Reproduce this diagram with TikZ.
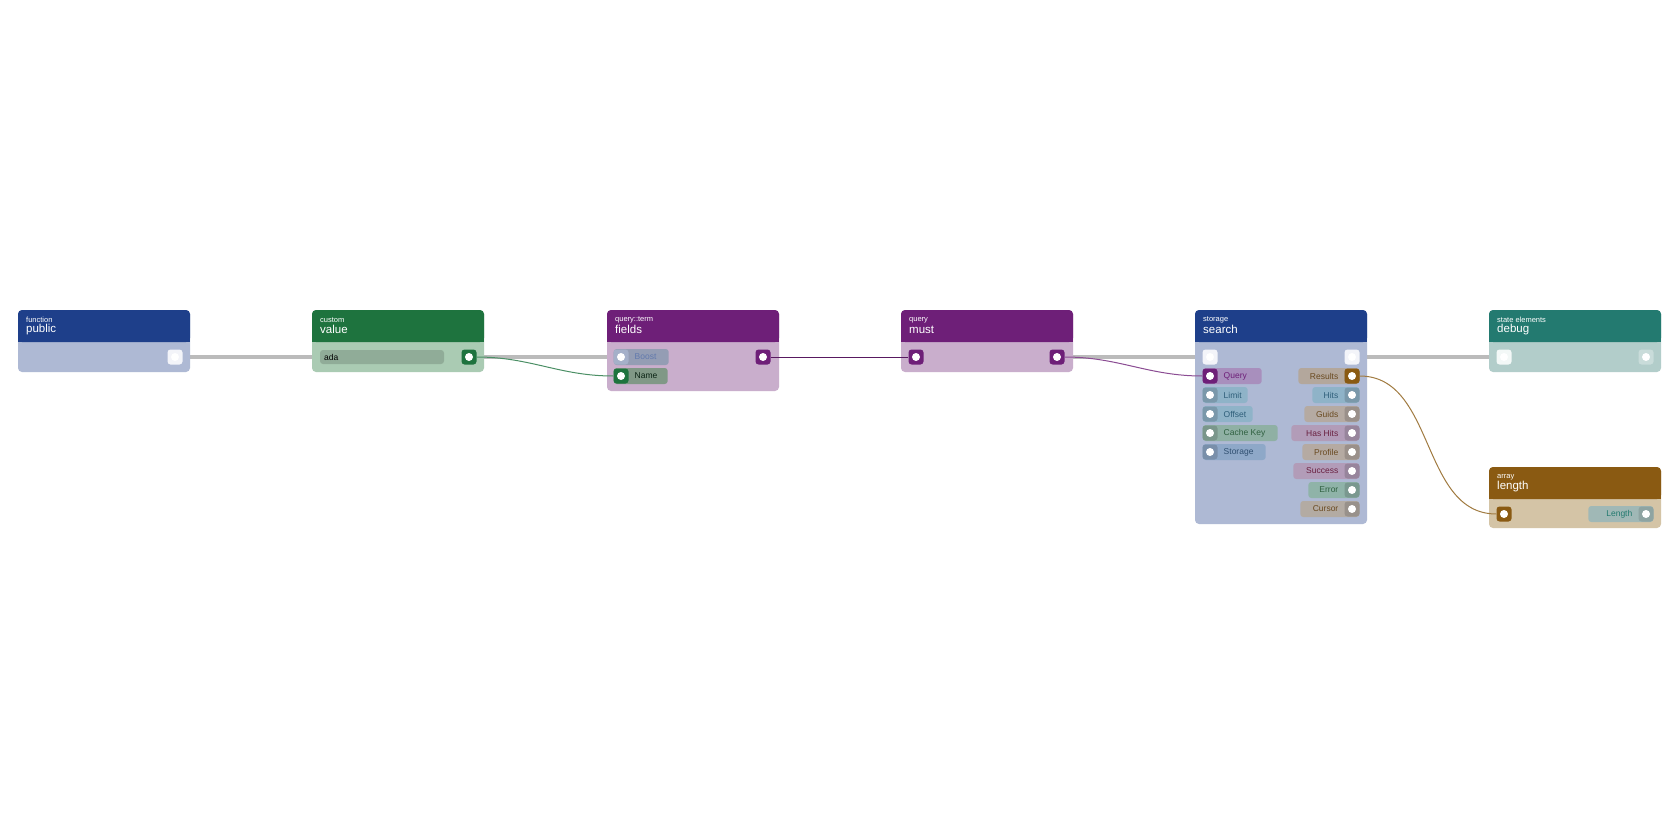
\documentclass[tikz,border=0pt]{standalone}
\usepackage{fontspec}
\setmainfont{Liberation Sans}
\definecolor{hblue}{HTML}{1E3F8A}
\definecolor{bblue}{HTML}{AEB9D4}
\definecolor{hgreen}{HTML}{1E733E}
\definecolor{bgreen}{HTML}{AACBB3}
\definecolor{hpurple}{HTML}{6E1F78}
\definecolor{bpurple}{HTML}{C9AECC}
\definecolor{hteal}{HTML}{237A70}
\definecolor{bteal}{HTML}{B2CDCA}
\definecolor{hbrown}{HTML}{8A5A12}
\definecolor{bbrown}{HTML}{D4C4A6}
\definecolor{wire}{HTML}{BBBBBB}
% card: name, x, top y, bottom y, header, body, category, title
\newcommand{\card}[8]{%
  \fill[#6,rounded corners=4pt] (#2,#3) rectangle (#2+172,#4);
  \fill[#5,rounded corners=4pt] (#2,#3) rectangle (#2+172,#3+32);
  \fill[#5] (#2,#3+20) rectangle (#2+172,#3+32);
  \node[cat] (#1-cat) at (#2+8,#3+10) {#7};
  \node[title] (#1) at (#2+8,#3+19.5) {#8};
}
% port: name, x, y, fill, dot
\newcommand{\port}[5]{%
  \node[port,fill=#4] (#1) at (#2,#3) {};
  \fill[#5] (#1) circle (4pt);
}
\newcommand{\inlab}[2]{\makebox[#1][l]{\hspace*{15pt}#2}}
\newcommand{\outlab}[2]{\makebox[#1][r]{#2\hspace*{15pt}}}
\begin{document}
\begin{tikzpicture}[x=1pt,y=-1pt,
  cat/.style={anchor=west,inner sep=0pt,text=white!80,font=\fontsize{7.5}{7.5}\selectfont},
  title/.style={anchor=west,inner sep=0pt,text=white,font=\fontsize{11.5}{11.5}\selectfont},
  port/.style={rounded corners=3pt,minimum size=15pt,inner sep=0pt},
  inpill/.style={anchor=west,rounded corners=3pt,minimum height=16pt,inner ysep=0pt,
    inner xsep=6pt,xshift=-7.5pt,font=\fontsize{8.5}{8.5}\selectfont},
  outpill/.style={anchor=east,rounded corners=3pt,minimum height=16pt,inner ysep=0pt,
    inner xsep=6pt,xshift=7.5pt,font=\fontsize{8.5}{8.5}\selectfont},
  link/.style={line width=1pt}]
\useasboundingbox (0,0) rectangle (1680,840);
\fill[white] (0,0) rectangle (1680,840);

% gray wires behind cards
\draw[wire,line width=3.5pt] (175,357) -- (312,357);
\draw[wire,line width=3.5pt] (484,357) -- (778,357);
\draw[wire,line width=3.5pt] (1072,357) -- (1195,357);
\draw[wire,line width=3.5pt] (1367,357) -- (1489,357);

\card{public}{18}{310}{372}{hblue}{bblue}{function}{public}
\card{value}{312}{310}{372}{hgreen}{bgreen}{custom}{value}
\card{fields}{607}{310}{391}{hpurple}{bpurple}{query::term}{fields}
\card{must}{901}{310}{372}{hpurple}{bpurple}{query}{must}
\card{search}{1195}{310}{524}{hblue}{bblue}{storage}{search}
\card{debug}{1489}{310}{372}{hteal}{bteal}{state elements}{debug}
\card{length}{1489}{467}{528}{hbrown}{bbrown}{array}{length}

% public
\port{pub-out}{175}{357}{white!85!bblue}{white}

% value
\fill[black!25!bgreen,opacity=.6,rounded corners=3pt] (320,350) rectangle (444,364);
\node[anchor=west,inner sep=0pt,font=\fontsize{8.5}{8.5}\selectfont] (ada) at (324,357) {ada};
\port{val-out}{469}{357}{hgreen}{white}

% fields
\node[inpill,fill=black!15!bblue,text=hblue!70] (boost) at (621,357) {\inlab{43pt}{Boost}};
\port{f-boost}{621}{357}{black!5!bblue}{white!80}
\node[inpill,fill=black!25!bgreen,text=black!70!hgreen] (name) at (621,376) {\inlab{42pt}{Name}};
\port{f-name}{621}{376}{hgreen}{white}
\port{f-out}{763}{357}{hpurple}{white}

% must
\port{m-in}{916}{357}{hpurple}{white}
\port{m-out}{1057}{357}{hpurple}{white}

% search inputs
\port{s-in}{1210}{357}{white!85!bblue}{white}
\definecolor{qc}{HTML}{A88FBD}
\node[inpill,fill=qc,text=hpurple] (query) at (1210,376) {\inlab{47pt}{Query}};
\port{s-query}{1210}{376}{hpurple}{white}
\foreach \lab/\y/\w/\c/\t in {Limit/395/33/8FB3C8/2F5F7A, Offset/414/38/8FB3C8/2F5F7A,
    Cache Key/433/63/8FB0A4/2F6040, Storage/452/51/8EA8C8/2F4F70} {
  \definecolor{pc}{HTML}{\c}\definecolor{tc}{HTML}{\t}
  \node[inpill,fill=pc,text=tc] (in-\lab) at (1210,\y) {\inlab{\w pt}{\lab}};
  \port{s-\lab}{1210}{\y}{pc!85!black}{white!75}
}

% search outputs
\port{s-out}{1352}{357}{white!85!bblue}{white}
\foreach \lab/\y/\w/\c/\t in {Results/376/49/B3A79C/6A4A20, Hits/395/35/8FB3C8/2F5F7A,
    Guids/414/43/B5AAA2/6A4A20, Has Hits/433/56/B29CB8/6A2040, Profile/452/45/B5AAA2/6A4A20,
    Success/471/54/B29CB8/6A2040, Error/490/39/8FB3A8/2F6040, Cursor/509/47/B3ABA3/6A4A20} {
  \definecolor{pc}{HTML}{\c}\definecolor{tc}{HTML}{\t}
  \node[outpill,fill=pc,text=tc] (out-\lab) at (1352,\y) {\outlab{\w pt}{\lab}};
  \port{s-\lab}{1352}{\y}{pc!85!black}{white!75}
}
\port{s-res}{1352}{376}{hbrown}{white}

% debug
\port{d-in}{1504}{357}{white!85!bteal}{white}
\port{d-out}{1646}{357}{white!30!bteal}{white!70}

% length
\node[outpill,fill=black!10!bteal,text=hteal] (len) at (1646,514) {\outlab{53pt}{Length}};
\port{l-out}{1646}{514}{black!20!bteal}{white!75}
\port{l-in}{1504}{514}{hbrown}{white}

% coloured links
\draw[link,hgreen!80] (val-out) to[out=0,in=180] (f-name);
\draw[link,hpurple!80!black] (f-out) -- (m-in);
\draw[link,hpurple!80] (m-out) to[out=0,in=180] (s-query);
\draw[link,hbrown!80] (s-res) to[out=0,in=180] (l-in);
\end{tikzpicture}
\end{document}
